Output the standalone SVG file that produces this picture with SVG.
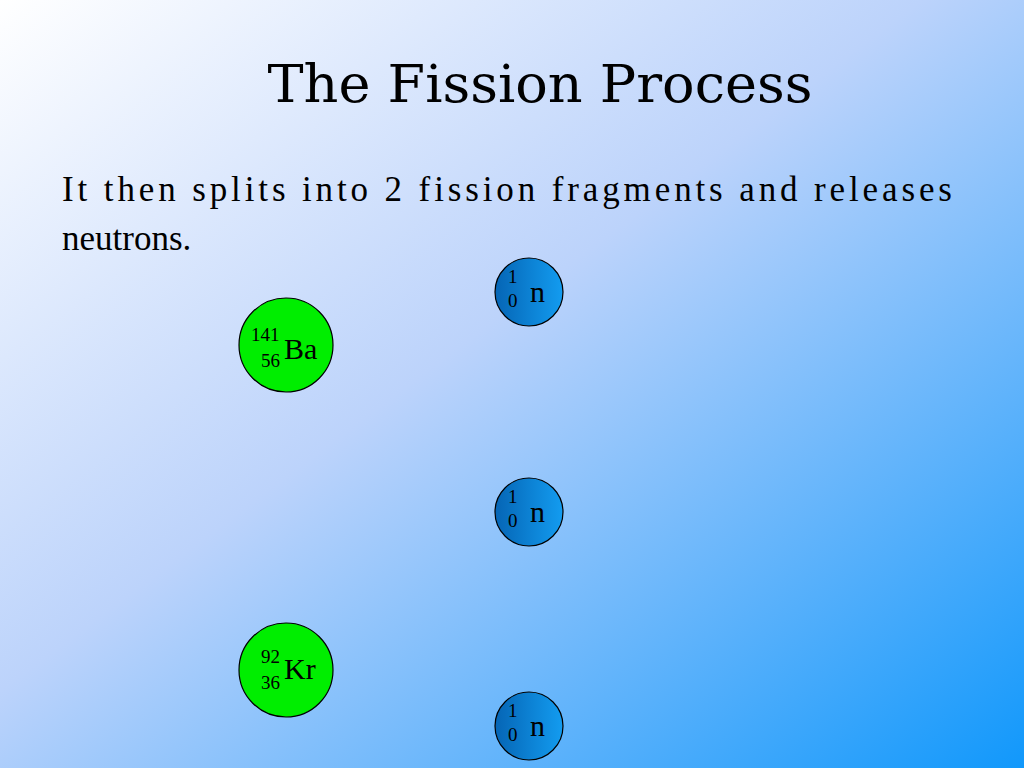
<svg xmlns="http://www.w3.org/2000/svg" width="1024" height="768" viewBox="0 0 1024 768">
<defs>
<linearGradient id="bg" x1="0" y1="0" x2="1" y2="1"><stop offset="0" stop-color="#ffffff"/><stop offset="0.45" stop-color="#bcd3fb"/><stop offset="1" stop-color="#1198fb"/></linearGradient>
<linearGradient id="nb" x1="0" y1="0" x2="1" y2="0"><stop offset="0" stop-color="#0565b5"/><stop offset="1" stop-color="#139cf0"/></linearGradient>
<style>
.t{font-family:"Liberation Serif","Times New Roman",serif;fill:#000}
.g{fill:#00ee00;stroke:#000;stroke-width:1.2}
.n{fill:url(#nb);stroke:#000;stroke-width:1.2}
.s{font-size:19px}.b{font-size:30px}
</style>
</defs>
<rect width="1024" height="768" fill="url(#bg)"/>
<text class="t" x="540" y="102" font-size="52" text-anchor="middle" style="font-family:'DejaVu Serif',serif" textLength="545" lengthAdjust="spacingAndGlyphs">The Fission Process</text>
<text class="t" x="62" y="201" font-size="35" textLength="890" lengthAdjust="spacing">It then splits into 2 fission fragments and releases</text>
<text class="t" x="62" y="250" font-size="35">neutrons.</text>
<g id="ba"><circle class="g" cx="286" cy="345" r="47"/><text class="t s" x="251" y="341">141</text><text class="t s" x="261" y="367">56</text><text class="t b" x="284" y="359">Ba</text></g>
<g id="kr"><circle class="g" cx="286" cy="670" r="47"/><text class="t s" x="261" y="663">92</text><text class="t s" x="261" y="689">36</text><text class="t b" x="284" y="679">Kr</text></g>
<g id="n1"><circle class="n" cx="529" cy="292" r="34"/><text class="t s" x="508" y="283">1</text><text class="t s" x="508" y="307">0</text><text class="t b" x="530" y="302">n</text></g>
<g id="n2"><circle class="n" cx="529" cy="512" r="34"/><text class="t s" x="508" y="503">1</text><text class="t s" x="508" y="527">0</text><text class="t b" x="530" y="522">n</text></g>
<g id="n3"><circle class="n" cx="529" cy="726" r="34"/><text class="t s" x="508" y="717">1</text><text class="t s" x="508" y="741">0</text><text class="t b" x="530" y="736">n</text></g>
<g id="connectors"/>
</svg>
